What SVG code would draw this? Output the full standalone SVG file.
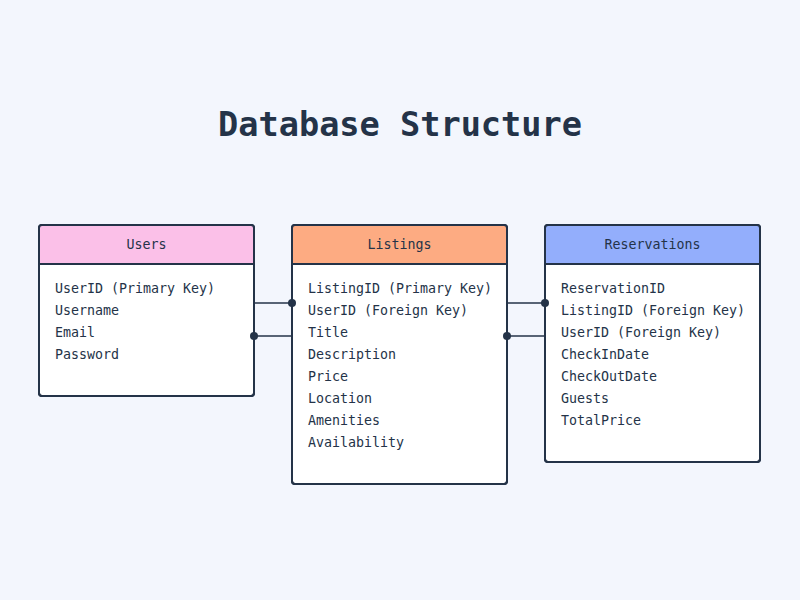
<svg xmlns="http://www.w3.org/2000/svg" width="800" height="600" viewBox="0 0 800 600">
<style>
.title{font-family:"DejaVu Sans Mono","Liberation Mono",monospace;font-weight:bold;font-size:33.6px;fill:#243348}
.hd{font-family:"DejaVu Sans Mono","Liberation Mono",monospace;font-size:13.3px;fill:#243348}
.row{font-family:"DejaVu Sans Mono","Liberation Mono",monospace;font-size:13.3px;fill:#243348}
.box{fill:#ffffff;stroke:#243348;stroke-width:2}
.sep{stroke:#243348;stroke-width:2}
.conn line{stroke:#243348;stroke-width:1.5}
.conn circle{fill:#243348}
</style>
<rect width="800" height="600" fill="#f3f6fd"/>
<text class="title" x="400" y="136" text-anchor="middle">Database Structure</text>
<g id="users">
<rect class="box" x="39" y="225" width="215" height="171" rx="3"/>
<path d="M40,226 H253 V264 H40 Z" fill="#fbc0e8"/>
<line class="sep" x1="39" y1="264" x2="254" y2="264"/>
<rect x="39" y="225" width="215" height="171" rx="3" fill="none" stroke="#243348" stroke-width="2"/>
<text class="hd" x="146.5" y="249" text-anchor="middle">Users</text>
<text class="row" x="55" y="293">UserID (Primary Key)</text>
<text class="row" x="55" y="315">Username</text>
<text class="row" x="55" y="337">Email</text>
<text class="row" x="55" y="359">Password</text>
</g>
<g id="listings">
<rect class="box" x="292" y="225" width="215" height="259" rx="3"/>
<path d="M293,226 H506 V264 H293 Z" fill="#fdab82"/>
<line class="sep" x1="292" y1="264" x2="507" y2="264"/>
<rect x="292" y="225" width="215" height="259" rx="3" fill="none" stroke="#243348" stroke-width="2"/>
<text class="hd" x="399.5" y="249" text-anchor="middle">Listings</text>
<text class="row" x="308" y="293">ListingID (Primary Key)</text>
<text class="row" x="308" y="315">UserID (Foreign Key)</text>
<text class="row" x="308" y="337">Title</text>
<text class="row" x="308" y="359">Description</text>
<text class="row" x="308" y="381">Price</text>
<text class="row" x="308" y="403">Location</text>
<text class="row" x="308" y="425">Amenities</text>
<text class="row" x="308" y="447">Availability</text>
</g>
<g id="reservations">
<rect class="box" x="545" y="225" width="215" height="237" rx="3"/>
<path d="M546,226 H759 V264 H546 Z" fill="#93aefc"/>
<line class="sep" x1="545" y1="264" x2="760" y2="264"/>
<rect x="545" y="225" width="215" height="237" rx="3" fill="none" stroke="#243348" stroke-width="2"/>
<text class="hd" x="652.5" y="249" text-anchor="middle">Reservations</text>
<text class="row" x="561" y="293">ReservationID</text>
<text class="row" x="561" y="315">ListingID (Foreign Key)</text>
<text class="row" x="561" y="337">UserID (Foreign Key)</text>
<text class="row" x="561" y="359">CheckInDate</text>
<text class="row" x="561" y="381">CheckOutDate</text>
<text class="row" x="561" y="403">Guests</text>
<text class="row" x="561" y="425">TotalPrice</text>
</g>
<g id="connectors" class="conn">
<line x1="254" y1="303" x2="292" y2="303"/><circle cx="292" cy="303" r="4"/>
<line x1="254" y1="336" x2="292" y2="336"/><circle cx="254" cy="336" r="4"/>
<line x1="507" y1="303" x2="545" y2="303"/><circle cx="545" cy="303" r="4"/>
<line x1="507" y1="336" x2="545" y2="336"/><circle cx="507" cy="336" r="4"/>
</g>
</svg>
